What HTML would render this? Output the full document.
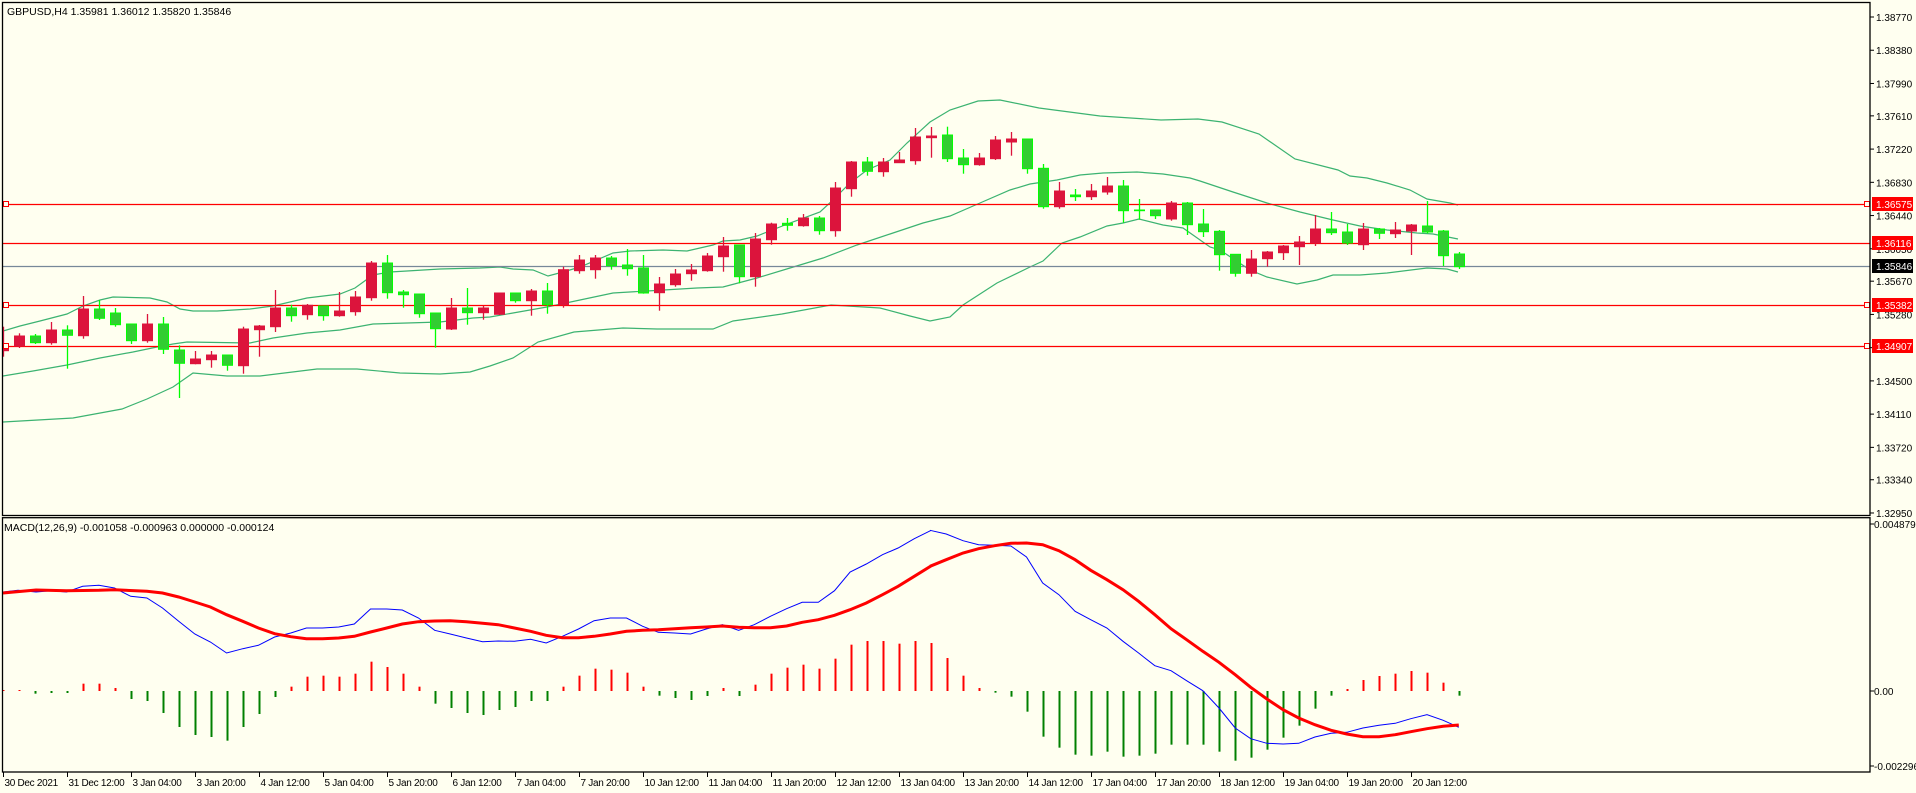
<!DOCTYPE html>
<html><head><meta charset="utf-8">
<style>
html,body{margin:0;padding:0;background:#FFFFF0;}
svg{display:block;font-family:"Liberation Sans",sans-serif;font-size:11px;}
</style></head>
<body>
<svg id="s" width="1916" height="793" xmlns="http://www.w3.org/2000/svg">
<rect x="0" y="0" width="1916" height="793" fill="#FFFFF0"/>
<defs><clipPath id="cm"><rect x="3" y="3" width="1867" height="512"/></clipPath>
<clipPath id="cd"><rect x="3" y="519" width="1867" height="252"/></clipPath></defs>
<g id="main" clip-path="url(#cm)">
<polyline fill="none" stroke="#3CB371" stroke-width="1.2" points="3,331 20,326 40,321 67,314 83,306 100,300 113,297 150,298 167,302 180,309 193,311 217,311 250,309 273,306 307,298 340,294 355,288 373,275 390,272 407,271 440,269 480,268 500,267 513,269 533,270 548,276 563,272 580,267 613,253 630,251 663,250 687,251 713,245 723,241 740,240 757,236 790,223 820,212 833,200 850,183 867,170 890,160 907,143 930,122 950,110 978,101 1000,100 1039,108 1100,116 1161,120 1198,119 1222,122 1259,134 1295,159 1338,170 1350,176 1367,178 1387,183 1410,190 1427,199 1450,203 1458,205"/>
<polyline fill="none" stroke="#3CB371" stroke-width="1.2" points="3,376 33,371 67,365 100,358 133,352 157,347 173,344 187,342 250,343 273,338 307,333 340,330 373,324 407,323 440,322 473,318 490,317 513,313 547,307 580,300 613,293 647,291 697,288 723,287 757,278 790,268 823,258 857,245 890,234 923,223 950,216 980,203 1010,190 1030,184 1057,180 1080,175 1103,173 1137,172 1163,174 1190,178 1200,181 1233,192 1267,203 1300,212 1333,220 1360,226 1387,230 1417,233 1433,234 1458,239"/>
<polyline fill="none" stroke="#3CB371" stroke-width="1.2" points="3,422 73,418 122,409 147,399 173,387 193,373 227,376 260,376 317,369 357,369 400,373 440,374 470,372 490,366 513,358 538,342 574,332 623,328 657,329 713,329 733,321 782,314 831,305 880,308 910,316 930,321 950,317 963,305 997,283 1030,267 1043,261 1062,243 1080,237 1107,226 1123,223 1139,219 1163,225 1183,228 1210,247 1220,250 1250,270 1267,277 1297,284 1317,280 1333,275 1360,275 1387,273 1427,268 1447,269 1458,272"/>
<line x1="3" x2="1870" y1="204.5" y2="204.5" stroke="#FF0000" stroke-width="1.3"/>
<line x1="3" x2="1870" y1="243.5" y2="243.5" stroke="#FF0000" stroke-width="1.3"/>
<line x1="3" x2="1870" y1="266.5" y2="266.5" stroke="#778899" stroke-width="1.3"/>
<line x1="3" x2="1870" y1="305.5" y2="305.5" stroke="#FF0000" stroke-width="1.3"/>
<line x1="3" x2="1870" y1="346.5" y2="346.5" stroke="#FF0000" stroke-width="1.3"/>
<g id="candles"></g>
<rect x="3.5" y="201.5" width="5" height="5" fill="#FFFFF0" stroke="#FF0000"/>
<rect x="3.5" y="302.5" width="5" height="5" fill="#FFFFF0" stroke="#FF0000"/>
<rect x="3.5" y="343.5" width="5" height="5" fill="#FFFFF0" stroke="#FF0000"/>
<rect x="1864.5" y="201.5" width="5" height="5" fill="#FFFFF0" stroke="#FF0000"/>
<rect x="1864.5" y="302.5" width="5" height="5" fill="#FFFFF0" stroke="#FF0000"/>
<rect x="1864.5" y="343.5" width="5" height="5" fill="#FFFFF0" stroke="#FF0000"/>
</g>
<g id="macd" clip-path="url(#cd)"></g>
<rect x="2.5" y="2.5" width="1867.5" height="513" fill="none" stroke="#000" stroke-width="1.3"/>
<rect x="2.5" y="517.7" width="1867.5" height="254.3" fill="none" stroke="#000" stroke-width="1.3"/>
<text x="7" y="15" fill="#000" font-size="10.5px">GBPUSD,H4  1.35981 1.36012 1.35820 1.35846</text>
<text x="4" y="531" fill="#000" font-size="10.5px">MACD(12,26,9) -0.001058 -0.000963 0.000000 -0.000124</text>
<g id="axis" fill="#000" font-size="10px"></g>
</svg>
<script>
var NS="http://www.w3.org/2000/svg";
function el(p,t,a,txt){var e=document.createElementNS(NS,t);for(var k in a)e.setAttribute(k,a[k]);if(txt!==undefined)e.textContent=txt;p.appendChild(e);return e;}
var C=[
['r',346.7,350.7,326.7,356.7],['r',336,346,333.3,348],['g',336,342.7,334,344],['r',330,342.7,322,344.7],['g',330,335.3,325.3,368.7],
['r',309,335.7,296,338.7],['g',309,318.3,300,320],['g',313,324.7,308,326.7],['g',324,340.7,324,344],['r',324,340.7,314,342.7],
['g',324,349.3,317,354],['g',350,363.3,345.3,398],['r',359,363.7,351,364.3],['r',355,359.7,351,367.7],['g',355,365.3,355,370.7],
['r',329,365.7,326.7,373.7],['r',326,329.7,325,356.7],['r',308,326.7,290,332],['g',308,315.7,304.7,321.7],['r',305.3,314.7,304,319.7],
['g',306,315.7,306,320.7],['r',311,315.7,292,316.7],['r',297,311.7,291,315.7],['r',263,297.7,261,300.7],['g',263,292.7,255,298.7],
['g',292,294.7,290,307.7],['g',294,313.7,294,317.7],['g',313,328.7,313,347.7],['r',308,329,298,330],['g',308,312.7,288,324.7],
['r',308,312.7,305.7,319.7],['r',293,314.3,293,315],['g',293,300.7,293,302.7],['r',291,300.7,289,315.7],['g',291,304.7,283,313.7],
['r',269.7,304.7,266.7,307.7],['r',260,270.7,255,273.7],['r',258,269.7,255,278.7],['g',258,265.7,256,269.7],['g',265,268.7,249,275.7],
['g',268,293,255,293.7],['r',284,292.7,277,310.7],['r',274,284.7,269,286.7],['r',270,273.7,264,280.7],['r',256,270.7,253,271.7],
['r',246,256.7,237,271.7],['g',245,276.7,245,283.3],['r',239,276.7,233,286.7],['r',224,239.7,222.7,244.7],['g',223.3,225.3,218,230.7],
['r',218,225.7,214,226.7],['g',218,230.7,216,234.7],['r',188,230.7,182,236.7],['r',162,188.7,161,196.7],['g',162,171.3,157,175.7],
['r',162,171.7,158,176.7],['r',160,162.7,152,162.7],['r',137,160.7,128,164.7],['r',136,137.7,127,157.7],['g',135,158.7,126.7,162],
['g',158,164.7,149,173.7],['r',158,164.7,153,165.7],['r',140,158.7,136,160],['r',139,142,132,155.7],['g',139,168.7,139,173.7],
['g',168.3,206.7,164,208.7],['r',191,206.7,182,208.7],['g',195,196.7,189,201],['r',191,196.7,184,200],['r',186,192,177,194.7],
['g',186,210.7,180,222.7],['g',210,210.7,199,219.7],['g',210,215.7,210,219],['r',203,219,201,220.7],['g',203,224.7,202,235],
['g',224,231.7,209,237],['g',231.3,254.7,230,270.7],['g',254.3,273.3,254.3,276.7],['r',259,273.3,250,276.7],['r',252,258.7,251,266.7],
['r',246,252.7,245,260],['r',242,246.7,236,265],['r',229,243,215,246],['g',229,232.7,212,235],['g',232,243,224,245],
['r',229,244.7,223,250],['g',229,233.3,228,239],['r',230,233.7,222,238],['r',225,231,224,255],['g',226,232,201,233.3],
['g',231,255.7,230,266],['g',254,266.7,252,269]];
var cg=document.getElementById('candles');
C.forEach(function(c,k){var x=Math.round(3.3+16*k)+0.5;var red=c[0]=='r';var fill=red?'#DC143C':'#32CD32',st=red?'#DC143C':'#00FF00';
el(cg,'line',{x1:x,x2:x,y1:c[3],y2:c[4],stroke:st,'stroke-width':1.3});
var h=Math.max(c[2]-c[1],0.01);
el(cg,'rect',{x:x-5,y:c[1],width:10,height:h,fill:fill,stroke:st,'stroke-width':1});});
var m=document.getElementById('macd');
var H=[518,518,527,525,525,497,497,510,543,549,585,627,651,657,668,627,588,537,506,476,473,476,467,431,447,467,506,557,570,585,591,576,567,549,549,506,473,452,455,464,506,533,540,546,534,510,534,500,467,449,440,452,422,380,369,369,377,369,375,420,473,510,524,536,581,656,689,710,713,701,716,713,707,680,680,680,701,728,719,695,659,623,572,533,513,486,474,467,459,464,494,533];
H.forEach(function(z,k){var x=Math.round(3.3+16*k)+0.5;var y=518+z/3;var y0=691;if(Math.abs(y-y0)<1){y=y0-1;}
el(m,'line',{x1:x,x2:x,y1:y0,y2:y,stroke:(y<y0?'#FF0000':'#008000'),'stroke-width':2});});
function conv(a,off){return a.map(function(p){return (off+p[0]/1.668).toFixed(1)+','+(518+p[1]/3).toFixed(1);});}
var b1=[[5,222],[30,217],[60,222],[85,218],[111,222],[138,205],[165,202],[191,210],[218,235],[245,240],[271,270],[298,310],[325,348],[351,372],[378,405],[405,392],[431,382],[458,357],[485,345],[511,330],[538,330],[565,327],[591,318],[618,273],[645,273],[671,276],[698,300],[725,337],[751,348],[778,360],[805,371],[831,369],[858,370],[885,364],[911,375],[938,355],[965,333],[991,308],[1018,300],[1045,300],[1072,325],[1098,343],[1125,345],[1152,348],[1178,333],[1205,320],[1232,337],[1258,320],[1285,295],[1312,272],[1338,253],[1365,253],[1392,218],[1418,162],[1445,138],[1472,110],[1498,90],[1525,62],[1552,38]];
var b2=[[0,37],[27,48],[55,68],[81,80],[108,82],[135,84],[161,117],[188,195],[215,230],[242,280],[268,305],[295,330],[322,370],[348,405],[375,443],[402,458],[428,488],[455,518],[482,570],[509,630],[535,662],[562,676],[589,678],[615,676],[642,657],[669,646],[695,643],[722,630],[749,622],[776,616],[802,602],[829,590],[856,607],[882,628]];
var r1=[[5,225],[60,216],[111,218],[165,217],[191,215],[245,220],[271,225],[298,237],[325,252],[351,267],[378,290],[405,310],[431,330],[458,347],[485,356],[511,362],[538,362],[565,360],[591,355],[618,342],[645,330],[671,318],[698,311],[725,309],[751,308],[778,311],[805,316],[831,320],[858,330],[885,340],[911,352],[938,359],[965,359],[991,355],[1018,348],[1045,340],[1072,337],[1098,335],[1125,332],[1152,329],[1178,327],[1205,324],[1232,328],[1258,329],[1285,329],[1312,324],[1338,313],[1365,305],[1392,292],[1418,275],[1445,255],[1472,230],[1498,205],[1525,175],[1552,145]];
var r2=[[0,145],[27,125],[55,105],[81,92],[108,83],[135,76],[161,75],[188,80],[215,98],[242,125],[268,157],[295,185],[322,215],[348,250],[375,290],[402,332],[428,365],[455,400],[482,433],[509,470],[535,508],[562,543],[589,575],[615,600],[642,620],[669,637],[695,648],[722,656],[749,656],[776,650],[802,641],[829,632],[856,625],[882,621]];
el(m,'polyline',{points:conv(b1,0).concat(conv(b2,930)).join(' '),fill:'none',stroke:'#0000FF','stroke-width':1});
el(m,'polyline',{points:conv(r1,0).concat(conv(r2,930)).join(' '),fill:'none',stroke:'#FF0000','stroke-width':3});
var ax=document.getElementById('axis');
var P=[1.38770,1.38380,1.37990,1.37610,1.37220,1.36830,1.36440,1.36050,1.35670,1.35280,1.34890,1.34500,1.34110,1.33720,1.33340,1.32950];
P.forEach(function(p){var y=17+(1.38770-p)*8522;el(ax,'line',{x1:1870,x2:1874,y1:y,y2:y,stroke:'#000'});el(ax,'text',{x:1876,y:y+4},p.toFixed(5));});
function box(y,t,c){el(ax,'rect',{x:1872,y:y-7,width:41,height:14,fill:c});el(ax,'text',{x:1876,y:y+4,fill:'#fff'},t);}
box(204,'1.36575','#FF0000');box(243,'1.36116','#FF0000');box(266,'1.35846','#000');box(305,'1.35382','#FF0000');box(346,'1.34907','#FF0000');
[[524,'0.004879'],[691,'0.00'],[766,'-0.002296']].forEach(function(a){el(ax,'line',{x1:1870,x2:1874,y1:a[0],y2:a[0],stroke:'#000'});el(ax,'text',{x:1874,y:a[0]+4},a[1]);});
var L=['30 Dec 2021','31 Dec 12:00','3 Jan 04:00','3 Jan 20:00','4 Jan 12:00','5 Jan 04:00','5 Jan 20:00','6 Jan 12:00','7 Jan 04:00','7 Jan 20:00','10 Jan 12:00','11 Jan 04:00','11 Jan 20:00','12 Jan 12:00','13 Jan 04:00','13 Jan 20:00','14 Jan 12:00','17 Jan 04:00','17 Jan 20:00','18 Jan 12:00','19 Jan 04:00','19 Jan 20:00','20 Jan 12:00'];
L.forEach(function(t,j){var x=Math.round(3.3+64*j)+0.5;el(ax,'line',{x1:x,x2:x,y1:772,y2:777,stroke:'#000'});el(ax,'text',{x:x+1,y:786,'letter-spacing':'-0.3px'},t);});
</script>
</body></html>
